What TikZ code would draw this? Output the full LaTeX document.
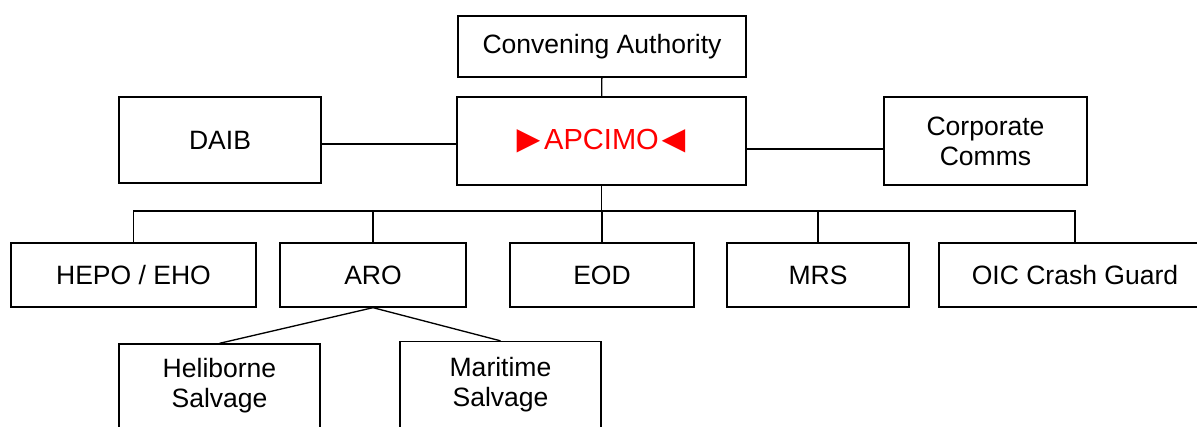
\documentclass[tikz,border=0pt]{standalone}
\usepackage{fontspec}
\setmainfont{Liberation Sans}
\usepackage{tikz}
\usetikzlibrary{positioning}

\newcommand{\rtri}{\raisebox{-2pt}{\scalebox{1.35}{►}}\kern-3pt}
\newcommand{\ltri}{\kern-3pt\raisebox{-2pt}{\scalebox{1.35}{◄}}}

\begin{document}
\begin{tikzpicture}[x=0.75pt, y=0.75pt,
        orgbox/.style={draw, line width=1pt, align=center, inner sep=2pt,
            font=\fontsize{19.9}{22.5}\selectfont},
        link/.style={line width=1pt}]
        \useasboundingbox (0,0) rectangle (1197,426);
        % Top boxes
        \node[orgbox, minimum width=216pt, minimum height=45.75pt] (conv) at (602,379.5) {Convening Authority};
        \node[orgbox, minimum width=151.5pt, minimum height=64.5pt] (daib) at (220,286) {DAIB};
        \node[orgbox, minimum width=216.75pt, minimum height=66pt, text=red,
            font=\fontsize{21.8}{24}\selectfont] (apc) at (601.5,285) {\rtri APCIMO\ltri};
        \node[orgbox, minimum width=152.25pt, minimum height=66pt] (corp) at (985.5,285) {Corporate\\Comms};
        % First row
        \node[orgbox, minimum width=183.75pt, minimum height=48pt] (hepo) at (133.5,151) {HEPO / EHO};
        \node[orgbox, minimum width=139.5pt, minimum height=48pt] (aro) at (373,151) {ARO};
        \node[orgbox, minimum width=138pt, minimum height=48pt] (eod) at (602,151) {EOD};
        \node[orgbox, minimum width=136.5pt, minimum height=48pt] (mrs) at (818,151) {MRS};
        \node[orgbox, minimum width=204pt, minimum height=48pt] (oic) at (1075,151) {OIC Crash Guard};
        % Second row
        \node[orgbox, minimum width=150.75pt, minimum height=63pt] (heli) at (219.5,40) {Heliborne\\Salvage};
        \node[orgbox, minimum width=150.75pt, minimum height=64.5pt] (mari) at (500.5,41.5) {Maritime\\Salvage};
        % Connectors
        \coordinate (bus) at (601,215);
        \draw[link] (conv) -- (apc);
        \draw[link] ([yshift=-3pt]daib.east) -- ([yshift=-3pt]daib.east -| apc.west);
        \draw[link] ([yshift=-6pt]apc.east) -- ([yshift=-6pt]apc.east -| corp.west);
        \draw[link] (apc.south) -- (apc.south |- bus);
        \draw[link] (hepo.north) -- (hepo.north |- bus) -| (oic.north);
        \foreach \n in {aro,eod,mrs}
            \draw[link] (\n.north) -- (\n.north |- bus);
        \draw[link] (aro.south) -- (heli.north);
        \draw[link] (aro.south) -- (mari.north);
    \end{tikzpicture}
\end{document}
